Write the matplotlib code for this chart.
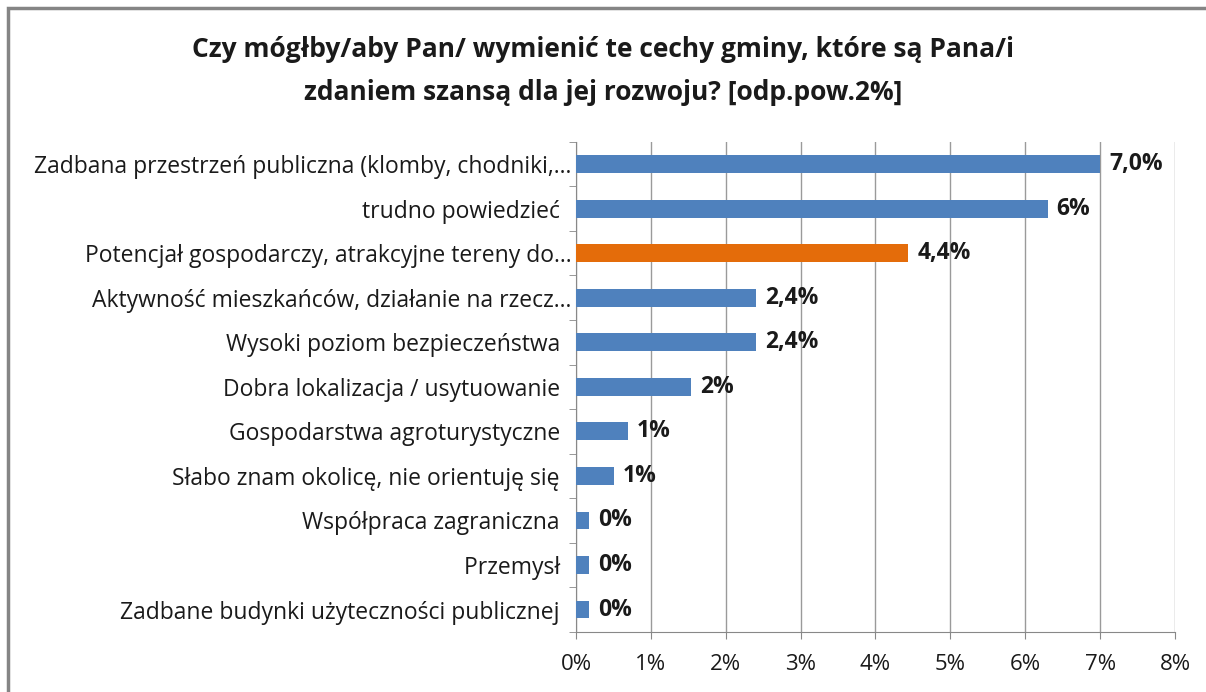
import numpy as np
import matplotlib
import matplotlib.pyplot as plt
from matplotlib.patches import Rectangle

matplotlib.rcParams['font.family'] = ['Open Sans', 'DejaVu Sans']

categories = [
    'Zadbana przestrzeń publiczna (klomby, chodniki,...',
    'trudno powiedzieć  ',
    'Potencjał gospodarczy, atrakcyjne tereny do...',
    'Aktywność mieszkańców, działanie na rzecz...',
    'Wysoki poziom bezpieczeństwa  ',
    'Dobra lokalizacja / usytuowanie  ',
    'Gospodarstwa agroturystyczne  ',
    'Słabo znam okolicę, nie orientuję się  ',
    'Współpraca zagraniczna  ',
    'Przemysł  ',
    'Zadbane budynki użyteczności publicznej  ',
]
values = [7.0, 6.3, 4.44, 2.4, 2.4, 1.54, 0.69, 0.51, 0.17, 0.17, 0.17]
value_labels = ['7,0%', '6%', '4,4%', '2,4%', '2,4%', '2%', '1%', '1%', '0%', '0%', '0%']
highlight = 2  # wyróżniony słupek
xticks = [0, 1, 2, 3, 4, 5, 6, 7, 8]
xtick_labels = ['0%', '1%', '2%', '3%', '4%', '5%', '6%', '7%', '8%']

BLUE = '#4F81BD'
ORANGE = '#E46C0A'

fig = plt.figure(figsize=(12.06, 6.92), dpi=100, facecolor='white')
ax = fig.add_axes([0.4776, 0.087, 0.4967, 0.708])

y = np.arange(len(categories))
colors = [ORANGE if i == highlight else BLUE for i in range(len(categories))]
ax.barh(y, values, height=0.4, color=colors, zorder=3)

for yi, v, lab in zip(y, values, value_labels):
    ax.text(v + 0.12, yi, lab, va='center', ha='left', fontsize=16.5,
            fontweight='bold', color='#1a1a1a', zorder=4)

ax.set_xlim(0, 8)
ax.set_ylim(len(categories) - 0.5, -0.5)
ax.set_xticks(xticks)
ax.set_xticklabels(xtick_labels, fontsize=16, color='#1a1a1a')
ax.set_yticks(y)
ax.set_yticklabels(categories, fontsize=16.5, color='#1a1a1a')
ax.tick_params(axis='y', length=0, pad=3)
ax.set_yticks(np.arange(-0.5, len(categories), 1), minor=True)
ax.tick_params(axis='y', which='minor', length=5, color='#888888')
ax.tick_params(axis='x', length=5, color='#888888', pad=11)

ax.grid(axis='x', color='#9a9a9a', linewidth=1, zorder=0)
for s in ['top', 'right']:
    ax.spines[s].set_visible(False)
ax.spines['left'].set_color('#888888')
ax.spines['bottom'].set_color('#888888')

fig.text(0.5, 0.928, 'Czy mógłby/aby Pan/ wymienić te cechy gminy, które są Pana/i',
         ha='center', va='center', fontsize=19, fontweight='bold', color='#1a1a1a')
fig.text(0.5, 0.866, 'zdaniem szansą dla jej rozwoju? [odp.pow.2%]',
         ha='center', va='center', fontsize=19, fontweight='bold', color='#1a1a1a')

# ramka wykresu (tylko góra i lewa krawędź widoczne)
fig.patches.append(Rectangle((0.0066, -0.05), 1.05, 1.038, transform=fig.transFigure,
                             fill=False, edgecolor='#858585', linewidth=2.5))

plt.savefig('out.png', dpi=100, facecolor='white')
